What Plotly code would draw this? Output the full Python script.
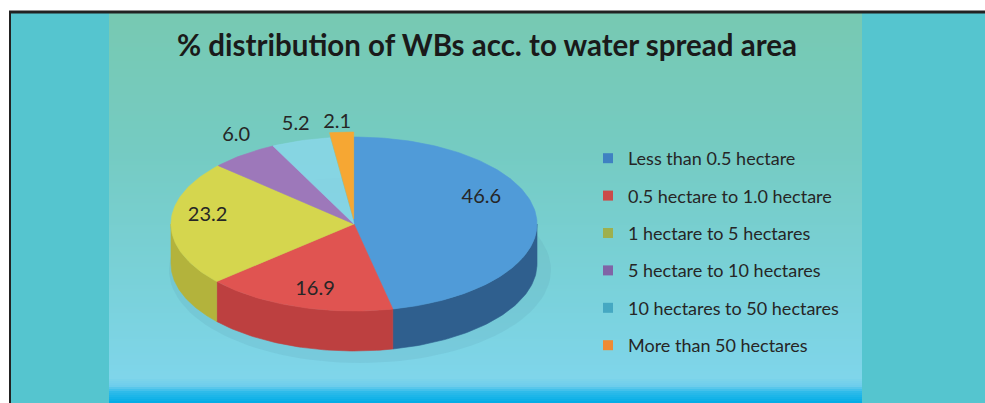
import numpy as np
import plotly.graph_objects as go

# ---------------- data ----------------
categories = ["Less than 0.5 hectare", "0.5 hectare to 1.0 hectare",
              "1 hectare to 5 hectares", "5 hectare to 10 hectares",
              "10 hectares to 50 hectares", "More than 50 hectares"]
values = [46.6, 16.9, 23.2, 6.0, 5.2, 2.1]
value_labels = ["46.6", "16.9", "23.2", "6.0", "5.2", "2.1"]
title_text = "% distribution of WBs acc. to water spread area"

# ---------------- styling ----------------
top_colors = ["#509bd8", "#e05451", "#d5d64e", "#9d78ba", "rgba(140,216,236,0.75)", "#f6a733"]
side_colors = ["#2f5f8e", "#bd4040", "#b3b33c", "#72548c", "#63abc0", "#c67f24"]
legend_colors = ["#3f81c2", "#cb4b49", "#9eb04e", "#8064a6", "#45a8c2", "#ef8b34"]
explode = [0, 0, 0, 0, 0, 5]
label_factor = [0.70, 0.70, 0.80, 1.15, 1.15, 1.15]
label_dx = [0, 1, 0, 9, 3, -3]
label_dy = [-20, 8, -8, -8, -3, -1]

W, H = 985, 403
cx, cy, rx, ry, depth = 354, 224, 183, 87, 40
FONT = "Lato, Open Sans, sans-serif"

fig = go.Figure()

# ---------------- background decoration ----------------
shapes = []
shapes.append(dict(type="rect", xref="x", yref="y", x0=10, x1=W, y0=12, y1=H,
                   fillcolor="#55c5cf", line=dict(width=0), layer="below"))


def hex2rgb(h):
    h = h.lstrip("#")
    return np.array([int(h[i:i + 2], 16) for i in (0, 2, 4)], float)


stops = [(13, "#77c9b2"), (150, "#75cbc2"), (300, "#7ad2dc"), (378, "#7fd5ea"),
         (386, "#6dcdec"), (392, "#2ebbea"), (403, "#00ace6")]
for y0 in np.arange(13, H, 2):
    ym = y0 + 1
    for (a, ca), (b, cb) in zip(stops[:-1], stops[1:]):
        if a <= ym <= b:
            t = (ym - a) / (b - a)
            c = hex2rgb(ca) * (1 - t) + hex2rgb(cb) * t
            break
    col = "rgb(%d,%d,%d)" % tuple(np.round(c))
    shapes.append(dict(type="rect", xref="x", yref="y", x0=109, x1=862, y0=y0, y1=y0 + 2.2,
                       fillcolor=col, line=dict(width=0), layer="below"))

shapes.append(dict(type="line", xref="x", yref="y", x0=9, x1=W, y0=12, y1=12,
                   line=dict(color="#222222", width=3), layer="below"))
shapes.append(dict(type="line", xref="x", yref="y", x0=10, x1=10, y0=11, y1=H,
                   line=dict(color="#222222", width=2), layer="below"))

# ---------------- 3D pie geometry from values ----------------
vals = np.array(values, float)
frac = vals / vals.sum()
ends = np.cumsum(frac) * 360.0
starts = ends - frac * 360.0


def pt(theta_deg, ox=0.0, oy=0.0, dz=0.0, f=1.0):
    t = np.radians(theta_deg)
    return cx + ox + f * rx * np.sin(t), cy + oy - f * ry * np.cos(t) + dz


# soft shadow under the pie
sh = np.linspace(0, 360, 121)
shx = cx + 6 + (rx + 8) * np.sin(np.radians(sh))
shy = cy + depth + 6 - (ry + 6) * np.cos(np.radians(sh))
fig.add_trace(go.Scatter(x=shx, y=shy, fill="toself", mode="lines",
                         fillcolor="rgba(90,150,170,0.15)", line=dict(width=0),
                         hoverinfo="skip", showlegend=False))

# side walls (front half: 90..270 deg clockwise from top)
for i in range(len(vals)):
    s0, s1 = max(starts[i], 90), min(ends[i], 270)
    if s1 <= s0:
        continue
    mid = (starts[i] + ends[i]) / 2
    ox = explode[i] * np.sin(np.radians(mid))
    oy = -explode[i] * np.cos(np.radians(mid))
    th = np.linspace(s0, s1, 60)
    xt, yt = pt(th, ox, oy)
    xb, yb = pt(th[::-1], ox, oy, depth)
    fig.add_trace(go.Scatter(x=np.r_[xt, xb, xt[:1]], y=np.r_[yt, yb, yt[:1]],
                             fill="toself", mode="lines", fillcolor=side_colors[i],
                             line=dict(width=0.6, color=side_colors[i]),
                             hoverinfo="skip", showlegend=False))

# top faces
for i in range(len(vals)):
    mid = (starts[i] + ends[i]) / 2
    ox = explode[i] * np.sin(np.radians(mid))
    oy = -explode[i] * np.cos(np.radians(mid))
    th = np.linspace(starts[i], ends[i], max(8, int(frac[i] * 300)))
    xa, ya = pt(th, ox, oy)
    xs = np.r_[cx + ox, xa, cx + ox]
    ys_ = np.r_[cy + oy, ya, cy + oy]
    fig.add_trace(go.Scatter(x=xs, y=ys_, fill="toself", mode="lines",
                             fillcolor=top_colors[i],
                             line=dict(width=0.6, color=top_colors[i]),
                             name=categories[i], text=value_labels[i],
                             hoverinfo="name+text", showlegend=False))

# value labels
mids = (starts + ends) / 2
lx, ly = pt(mids, f=np.array(label_factor))
lx = lx + np.array(label_dx)
ly = ly + np.array(label_dy)
fig.add_trace(go.Scatter(x=lx, y=ly, mode="text", text=value_labels,
                         textfont=dict(family=FONT, size=20, color="#262626"),
                         hoverinfo="skip", showlegend=False))

# legend entries
for i, c in enumerate(categories):
    fig.add_trace(go.Scatter(x=[None], y=[None], mode="markers", name=c,
                             legendgroup=str(i),
                             marker=dict(symbol="square", size=10, color=legend_colors[i]),
                             showlegend=True))

fig.update_layout(
    width=W, height=H,
    margin=dict(l=0, r=0, t=0, b=0),
    paper_bgcolor="white", plot_bgcolor="rgba(0,0,0,0)",
    shapes=shapes,
    xaxis=dict(range=[0, W], visible=False, fixedrange=True),
    yaxis=dict(range=[H, 0], visible=False, fixedrange=True),
    showlegend=True,
    legend=dict(x=588 / W, xanchor="left", y=1 - 140 / H, yanchor="top",
                bgcolor="rgba(0,0,0,0)", tracegroupgap=11,
                font=dict(family=FONT, size=18, color="#262626"),
                itemclick=False, itemdoubleclick=False),
    title=dict(text="<b>" + title_text + "</b>", x=487 / W, xanchor="center",
               y=1 - 46 / H, yanchor="middle",
               font=dict(family=FONT, size=29.5, color="#1a1a1a")),
)

fig.write_html("out.html", config={"displayModeBar": False},
               post_script="document.body.style.margin='0';document.body.style.overflow='hidden';")
